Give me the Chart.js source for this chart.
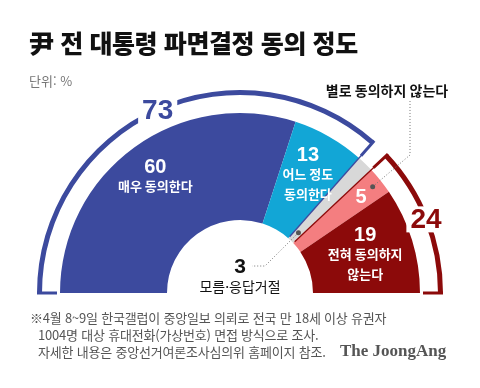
<!DOCTYPE html>
<html lang="ko">
<head>
<meta charset="utf-8">
<script src="https://cdn.jsdelivr.net/npm/chart.js@4.4.1/dist/chart.umd.min.js"></script>
<style>
  html, body { margin:0; padding:0; background:#fff; }
  body { width:480px; height:388px; position:relative; overflow:hidden;
         font-family:"Noto Sans CJK KR","Noto Sans",sans-serif; }
  #chart { position:absolute; left:0; top:0; }
  .title { position:absolute; left:29px; top:24px; font-size:25px; font-weight:900; color:#111;
           letter-spacing:-0.4px; white-space:nowrap; }
  .unit { position:absolute; left:29px; top:71px; font-size:13px; color:#777; }
  .note { position:absolute; left:30px; top:309px; font-size:13px; color:#555; line-height:17px;
          letter-spacing:-0.2px; white-space:nowrap; }
  .note div.in { padding-left:8px; }
  .brand { position:absolute; left:340px; top:341px; font-family:"Liberation Serif",serif;
           font-weight:700; font-size:17px; color:#555; white-space:nowrap; }
</style>
</head>
<body>
<canvas id="chart" width="480" height="388"></canvas>
<div class="title">尹 전 대통령 파면결정 동의 정도</div>
<div class="unit">단위: %</div>
<div class="note">
  <div>※4월 8~9일 한국갤럽이 중앙일보 의뢰로 전국 만 18세 이상 유권자</div>
  <div class="in">1004명 대상 휴대전화(가상번호) 면접 방식으로 조사.</div>
  <div class="in">자세한 내용은 중앙선거여론조사심의위 홈페이지 참조.</div>
</div>
<div class="brand">The JoongAng</div>
<script>
// answers, left to right
const categories = ['매우 동의한다', '어느 정도 동의한다', '모름·응답거절', '별로 동의하지 않는다', '전혀 동의하지 않는다'];
const values = [60, 13, 3, 5, 19];
const labelLines = [['매우 동의한다'], ['어느 정도', '동의한다'], ['모름·응답거절'], ['별로 동의하지 않는다'], ['전혀 동의하지', '않는다']];
// grouped totals for the outer brackets
const groupNames = ['동의', '모름·응답거절', '비동의'];
const groupValues = [73, 3, 24];

const BLUE = '#3c4a9e', LBLUE = '#12a6d6', GRAY = '#d8d8d8', PINK = '#f47e80', RED = '#8c0a0a';
const sliceColors = [BLUE, LBLUE, GRAY, PINK, RED];
const groupColors = [BLUE, 'rgba(0,0,0,0)', RED];

const R_OUT = 203, R_IN = 73;
const numFont = 'bold 20px "Liberation Sans", Arial, sans-serif';
const txtFont = 'bold 13px "Noto Sans CJK KR", sans-serif';

// label radius from centre, per slice
const labelRadius = [144, 137, null, 155, 131];

const sliceLabels = {
    id: 'sliceLabels',
    afterDatasetsDraw(chart) {
        const ctx = chart.ctx;
        const ring = chart.getDatasetMeta(0).data;
        const main = chart.getDatasetMeta(2).data;
        const cx = main[0].x, cy = main[0].y;
        const pt = (a, r) => [cx + Math.cos(a) * r, cy + Math.sin(a) * r];
        const mid = a => (a.startAngle + a.endAngle) / 2;

        ctx.save();
        ctx.lineCap = 'butt';

        // bracket ends: thick end ticks + thin divider lines to the hole
        const tick = (a, col) => {
            let p1 = pt(a, R_OUT), p2 = pt(a, 183);
            ctx.strokeStyle = col; ctx.lineWidth = 3;
            ctx.beginPath(); ctx.moveTo(p1[0], p1[1]); ctx.lineTo(p2[0], p2[1]); ctx.stroke();
        };
        const divider = (a, col) => {
            let p1 = pt(a, R_OUT - 2), p2 = pt(a, R_IN + 2);
            ctx.strokeStyle = col; ctx.lineWidth = 1.3;
            ctx.beginPath(); ctx.moveTo(p1[0], p1[1]); ctx.lineTo(p2[0], p2[1]); ctx.stroke();
        };
        tick(ring[0].startAngle, BLUE);
        tick(ring[0].endAngle, BLUE);
        divider(ring[0].endAngle, BLUE);
        tick(ring[2].startAngle, RED);
        tick(ring[2].endAngle, RED);
        divider(ring[2].startAngle, RED);

        // bracket totals, on a white patch
        ctx.font = 'bold 28px "Liberation Sans", Arial, sans-serif';
        ctx.textAlign = 'center'; ctx.textBaseline = 'middle';
        [0, 2].forEach(i => {
            const p = pt(mid(ring[i]), 200);
            const w = ctx.measureText(String(groupValues[i])).width;
            ctx.fillStyle = '#fff';
            ctx.fillRect(p[0] - w / 2 - 4, p[1] - 13, w + 8, 26);
            ctx.fillStyle = groupColors[i];
            ctx.fillText(String(groupValues[i]), p[0], p[1] + 1);
        });

        // labels inside the slices
        main.forEach((arc, i) => {
            if (labelRadius[i] == null) return;
            const p = pt(mid(arc), labelRadius[i]);
            const rows = i === 3 ? 1 : labelLines[i].length + 1;
            let y = p[1] - (rows - 1) * 10;
            ctx.fillStyle = '#fff';
            ctx.font = numFont;
            ctx.fillText(String(values[i]), p[0], y + 1);
            if (i === 3) return;
            ctx.font = txtFont;
            labelLines[i].forEach(l => { y += 20; ctx.fillText(l, p[0], y); });
        });

        // leader lines with dots
        ctx.strokeStyle = '#777'; ctx.lineWidth = 1; ctx.setLineDash([1, 2]);
        const dPink = pt(mid(main[3]), 170);
        ctx.beginPath(); ctx.moveTo(dPink[0], dPink[1]); ctx.lineTo(410, 155); ctx.lineTo(410, 101); ctx.stroke();
        const dGray = pt(mid(main[2]), 84);
        ctx.beginPath(); ctx.moveTo(dGray[0], dGray[1]); ctx.lineTo(265, 266); ctx.lineTo(252, 266); ctx.stroke();
        ctx.setLineDash([]);
        ctx.fillStyle = '#555';
        [dPink, dGray].forEach(d => { ctx.beginPath(); ctx.arc(d[0], d[1], 2.5, 0, Math.PI * 2); ctx.fill(); });

        // outside labels
        ctx.fillStyle = '#111';
        ctx.font = 'bold 14px "Noto Sans CJK KR", sans-serif';
        ctx.fillText(labelLines[3][0], 387, 91);
        ctx.font = 'bold 21px "Liberation Sans", Arial, sans-serif';
        ctx.fillText(String(values[2]), cx, 267);
        ctx.font = '14px "Noto Sans CJK KR", sans-serif';
        ctx.fillText(labelLines[2][0], cx, 287);
        ctx.restore();
    }
};

new Chart(document.getElementById('chart'), {
    type: 'doughnut',
    data: {
        labels: categories,
        datasets: [
            { label: 'bracket', data: groupValues, backgroundColor: groupColors, weight: 5 },
            { label: 'gap', data: [100], backgroundColor: ['rgba(0,0,0,0)'], weight: 18 },
            { label: '동의 정도', data: values, backgroundColor: sliceColors, weight: 107 }
        ]
    },
    options: {
        responsive: false,
        animation: false,
        rotation: -90,
        circumference: 180,
        radius: R_OUT,
        cutout: (R_IN / R_OUT * 100) + '%',
        borderWidth: 0,
        layout: { padding: { top: 0, bottom: 5, left: 0, right: 0 } },
        plugins: { legend: { display: false }, tooltip: { enabled: false } }
    },
    plugins: [sliceLabels]
});
</script>
</body>
</html>
